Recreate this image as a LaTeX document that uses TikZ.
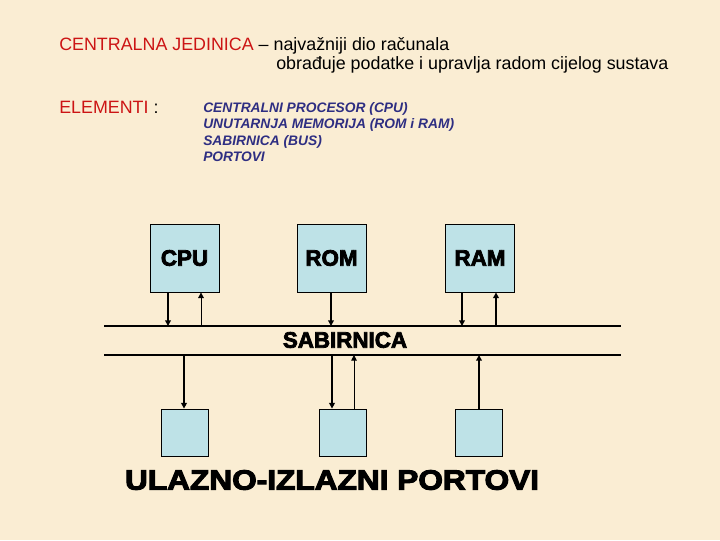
\documentclass[tikz,border=0pt]{standalone}
\usepackage{fontspec}
\usepackage{graphicx}
\usetikzlibrary{arrows.meta}
\setmainfont{Liberation Sans}
\newfontfamily\heavyfont{Liberation Sans Bold}[FakeBold=3.5]
\definecolor{slidepaper}{HTML}{FAEDD3}
\definecolor{slidered}{HTML}{CC1414}
\definecolor{slidenavy}{HTML}{2E2E82}
\definecolor{unitfill}{HTML}{BEE2E7}

\begin{document}
\begin{tikzpicture}[
  x=0.025cm,
  y=-0.025cm,
  every node/.style={inner sep=0pt},
  title/.style={anchor=base west, font=\fontsize{12.7}{14}\selectfont},
  listing/.style={anchor=base west, slidenavy,
                  font=\fontsize{9.8}{11}\selectfont\bfseries\itshape},
  unit/.style={draw=black, line width=0.6pt, fill=unitfill,
               minimum width=1.725cm, minimum height=1.7cm,
               font=\fontsize{15.9}{16}\heavyfont},
  port/.style={draw=black, line width=0.6pt, fill=unitfill,
               minimum width=1.175cm, minimum height=1.175cm},
  busline/.style={black, line width=1pt},
  wide/.style={black, line width=1.4pt, -{Triangle[length=4pt,width=4pt]}},
  narrow/.style={black, line width=0.7pt, -{Triangle[length=4pt,width=4pt]}}
]
  % ---- paper ------------------------------------------------------------
  \fill[slidepaper] (0,0) rectangle (720,540);
  \useasboundingbox (0,0) rectangle (720,540);

  % ---- heading ----------------------------------------------------------
  \node[title] (head) at (59,50)
    {\textcolor{slidered}{CENTRALNA JEDINICA} -- najvažniji dio računala};
  \node[title] (headtwo) at (276,69)
    {obrađuje podatke i upravlja radom cijelog sustava};

  \node[title] (elem) at (59,113) {\textcolor{slidered}{ELEMENTI} :};
  \node[listing] (lone)   at (203,112)   {CENTRALNI PROCESOR (CPU)};
  \node[listing] (ltwo)   at (203,128.5) {UNUTARNJA MEMORIJA (ROM i RAM)};
  \node[listing] (lthree) at (203,145)   {SABIRNICA (BUS)};
  \node[listing] (lfour)  at (203,161.5) {PORTOVI};

  % ---- the three units above the bus -----------------------------------
  \node[unit] (cpu) at (184.5,258) {CPU};
  \node[unit] (rom) at (331.5,258) {ROM};
  \node[unit] (ram) at (480,258)   {RAM};

  % ---- bus --------------------------------------------------------------
  \coordinate (bustop) at (104,326);
  \coordinate (busbot) at (104,355);
  \draw[busline] (bustop) -- (621,326);
  \draw[busline] (busbot) -- (621,355);
  \node[font=\fontsize{15.9}{16}\heavyfont] (bus) at (345,340) {SABIRNICA};

  % points where the connectors meet the two bus lines
  \coordinate (ta) at (168,326);
  \coordinate (tb) at (201,326);
  \coordinate (tc) at (331,326);
  \coordinate (td) at (462,326);
  \coordinate (te) at (496,326);
  \coordinate (ba) at (184,355);
  \coordinate (bb) at (332,355);
  \coordinate (bc) at (354,355);
  \coordinate (bd) at (479,355);

  \draw[wide]   (ta |- cpu.south) -- (ta);
  \draw[narrow] (tb) -- (tb |- cpu.south);
  \draw[wide]   (tc |- rom.south) -- (tc);
  \draw[wide]   (td |- ram.south) -- (td);
  \draw[wide]   (te) -- (te |- ram.south);

  % ---- ports below the bus ---------------------------------------------
  \node[port] (pa) at (184.5,432.5) {};
  \node[port] (pb) at (342.5,432.5) {};
  \node[port] (pc) at (478.5,432.5) {};

  \draw[wide]   (ba) -- (ba |- pa.north);
  \draw[wide]   (bb) -- (bb |- pb.north);
  \draw[narrow] (bc |- pb.north) -- (bc);
  \draw[wide]   (bd |- pc.north) -- (bd);

  \node[font=\fontsize{19.9}{20}\heavyfont] (ports) at (332,480)
    {\scalebox{1.13}[1]{ULAZNO-IZLAZNI PORTOVI}};
\end{tikzpicture}
\end{document}
